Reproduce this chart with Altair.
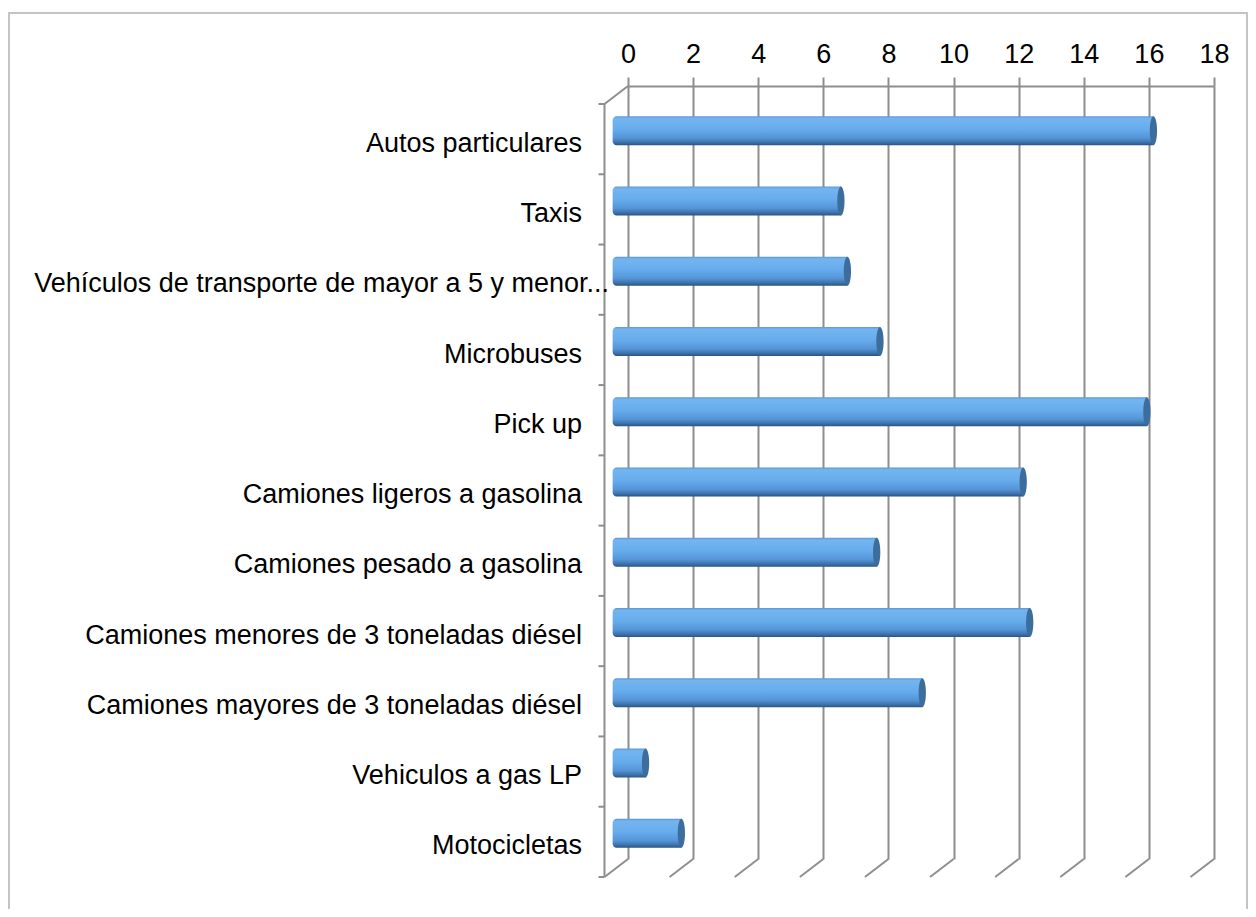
import altair as alt
import pandas as pd

# ---- data ----
categories = [
    "Autos particulares",
    "Taxis",
    "Vehículos de transporte de mayor a 5 y menor...",
    "Microbuses",
    "Pick up",
    "Camiones ligeros a gasolina",
    "Camiones pesado a gasolina",
    "Camiones menores de 3 toneladas diésel",
    "Camiones mayores de 3 toneladas diésel",
    "Vehiculos a gas LP",
    "Motocicletas",
]
values = [16.5, 6.9, 7.1, 8.1, 16.3, 12.5, 8.0, 12.7, 9.4, 0.9, 2.0]
ticks = [0, 2, 4, 6, 8, 10, 12, 14, 16, 18]
LONG = categories[2]

# ---- style / layout ----
W, H = 586, 773
DX, DY = -23.5, 18          # front plane offset of the 3D frame
MX, MY = -11.75, 9.5        # mid-depth offset for the cylinders
GRAY = "#8e8e8e"
FONT = "Liberation Sans, Arial, sans-serif"
FS = 27

df = pd.DataFrame({"cat": categories, "value": values})
one = pd.DataFrame({"k": [0]})
tick_df = pd.DataFrame({"t": ticks})

xscale = alt.Scale(domain=[0, 18], nice=False, zero=True)
yscale = alt.Scale(paddingInner=0, paddingOuter=0)
yenc = alt.Y("cat:N", sort=categories, scale=yscale, axis=None)

xaxis = alt.Axis(
    orient="top",
    values=ticks,
    title="",
    grid=True,
    gridColor=GRAY,
    gridWidth=2,
    domainColor=GRAY,
    domainWidth=2,
    tickColor=GRAY,
    tickWidth=2,
    tickSize=9,
    labelFont=FONT,
    labelFontSize=FS,
    labelColor="#000000",
    labelBaseline="alphabetic",
    labelPadding=15,
    labelFlush=False,
    labelOverlap=False,
)

grad = alt.Gradient(
    gradient="linear",
    stops=[
        alt.GradientStop(color="#5b98d4", offset=0),
        alt.GradientStop(color="#74b5f0", offset=0.08),
        alt.GradientStop(color="#66acec", offset=0.45),
        alt.GradientStop(color="#5595d7", offset=0.75),
        alt.GradientStop(color="#3d73ad", offset=0.9),
        alt.GradientStop(color="#2a5480", offset=1),
    ],
    x1=0, x2=0, y1=0, y2=1,
)

border = alt.Chart(one).mark_rect(
    fill="transparent", stroke="#c4c4c4", strokeWidth=2
).encode(x=alt.value(-619), x2=alt.value(619), y=alt.value(-73), y2=alt.value(860))

bottom_slants = alt.Chart(tick_df).mark_rule(
    color=GRAY, strokeWidth=2, x2Offset=DX
).encode(
    x=alt.X("t:Q", scale=xscale, axis=xaxis),
    x2="t:Q",
    y=alt.value(H),
    y2=alt.value(H + DY),
)

front_vert = alt.Chart(one).mark_rule(color=GRAY, strokeWidth=2).encode(
    x=alt.value(DX), y=alt.value(DY), y2=alt.value(H + DY)
)

top_slant = alt.Chart(one).mark_rule(color=GRAY, strokeWidth=2).encode(
    x=alt.value(DX), y=alt.value(DY), x2=alt.value(0), y2=alt.value(0)
)

left_ticks = alt.Chart(df).mark_rule(color=GRAY, strokeWidth=2, yOffset=DY).encode(
    x=alt.value(DX - 6),
    x2=alt.value(DX),
    y=alt.Y("cat:N", sort=categories, scale=yscale, axis=None, bandPosition=0),
)

bottom_tick = alt.Chart(one).mark_rule(color=GRAY, strokeWidth=2).encode(
    x=alt.value(DX - 6), x2=alt.value(DX), y=alt.value(H + DY)
)

bars = alt.Chart(df).transform_calculate(zero="0").mark_bar(
    height=29,
    color=grad,
    xOffset=MX - 3.6,
    x2Offset=MX,
    yOffset=MY,
    cornerRadiusTopLeft=4,
    cornerRadiusBottomLeft=4,
).encode(
    x=alt.X("zero:Q", scale=xscale, axis=xaxis),
    x2="value:Q",
    y=yenc,
)

ELLIPSE = "M0,-1A0.25,1,0,1,1,0,1A0.25,1,0,1,1,0,-1Z"
caps = alt.Chart(df).mark_point(
    shape=ELLIPSE,
    size=841,
    filled=True,
    color="#3c6d9c",
    opacity=1,
    xOffset=MX,
    yOffset=MY,
).encode(
    x=alt.X("value:Q", scale=xscale, axis=xaxis),
    y=yenc,
)

labels = alt.Chart(df).transform_filter(alt.datum.cat != LONG).mark_text(
    align="right", baseline="alphabetic", font=FONT, fontSize=FS,
    color="#000000", yOffset=30.6
).encode(y=yenc, x=alt.value(-46), text="cat:N")

long_label = alt.Chart(df).transform_filter(alt.datum.cat == LONG).mark_text(
    align="right", baseline="alphabetic", font=FONT, fontSize=FS,
    color="#000000", yOffset=30.6
).encode(y=yenc, x=alt.value(-19), text="cat:N")

chart = alt.layer(
    border, bottom_slants, front_vert, top_slant, left_ticks, bottom_tick,
    bars, caps, labels, long_label
).properties(
    width=W,
    height=H,
    padding={"left": 620, "top": 78, "right": 34, "bottom": 50},
    autosize=alt.AutoSizeParams(type="none"),
).configure_view(strokeWidth=0)

chart.save("out.html", embed_options={"renderer": "svg", "actions": False})
